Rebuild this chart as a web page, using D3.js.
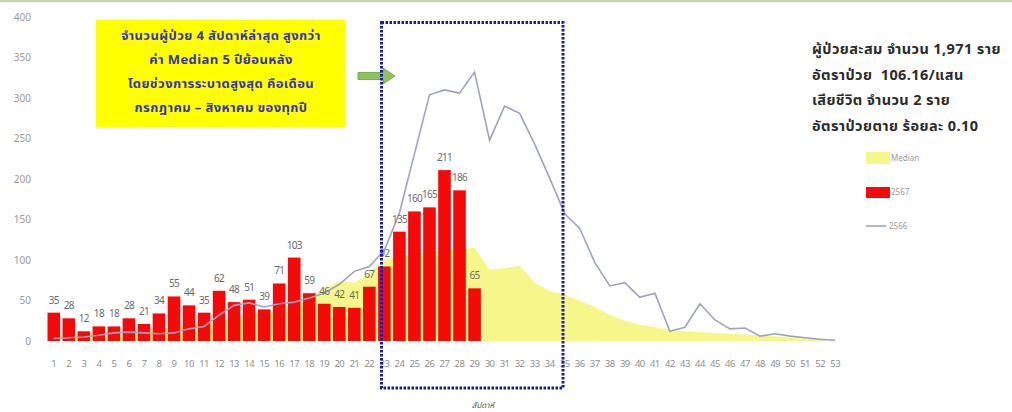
<!DOCTYPE html>
<html>
<head>
<meta charset="utf-8">
<script src="https://cdn.jsdelivr.net/npm/d3@7"></script>
<style>
  body { margin: 0; background: #fff; }
  svg { display: block; }
  text { font-family: Tahoma, "Noto Sans Thai", "Leelawadee UI", "DejaVu Sans", sans-serif; }
</style>
</head>
<body>
<svg id="chart" width="1012" height="412"></svg>
<script>
// week numbers on the x axis
const weeks = d3.range(1, 54)
// 2567 cases per week (bars)
const cases2567 = [35, 28, 12, 18, 18, 28, 21, 34, 55, 44, 35, 62, 48, 51, 39, 71, 103, 59, 46, 42, 41, 67, 92, 135, 160, 165, 211, 186, 65]
// 2566 cases per week (line)
const cases2566 = [3, 4, 5, 7, 10, 11, 10, 9, 10, 15, 18, 32, 44, 47, 42, 46, 48, 53, 59, 70, 86, 92, 112, 158, 231, 304, 310, 306, 332, 248,
  290, 281, 243, 201, 157, 139, 97, 68, 72, 54, 59, 12, 17, 46, 26, 15, 16, 6, 9, 6, 4, 2, 1]
// median of previous 5 years (area)
const median5y = [8, 8, 9, 10, 10, 12, 13, 15, 18, 20, 22, 25, 28, 32, 35, 40, 45, 55, 65, 74, 72, 84, 100, 105, 108, 110, 112, 113, 115, 88,
  90, 93, 72, 62, 57, 50, 42, 32, 25, 20, 17, 14, 12, 11, 10, 9, 8, 7, 6, 4, 3, 1, 0]
const yTicks = [0, 50, 100, 150, 200, 250, 300, 350, 400]
const boxLines = [
  "จำนวนผู้ป่วย 4 สัปดาห์ล่าสุด สูงกว่า",
  "ค่า Median 5 ปีย้อนหลัง",
  "โดยช่วงการระบาดสูงสุด คือเดือน",
  "กรกฎาคม – สิงหาคม ของทุกปี"
]
const summaryLines = [
  "ผู้ป่วยสะสม จำนวน 1,971 ราย",
  "อัตราป่วย  106.16/แสน",
  "เสียชีวิต จำนวน 2 ราย",
  "อัตราป่วยตาย ร้อยละ 0.10"
]
const legendItems = ["Median", "2567", "2566"]
const xTitle = "สัปดาห์"

const svg = d3.select("#chart")

const x = d3.scaleBand().domain(weeks).range([47.5, 841.5]).paddingInner(0.16)
const y = d3.scaleLinear().domain([0, 400]).range([341, 17])
const cx = d => x(d) + x.bandwidth() / 2

// thin green frame line at the top
svg.append("rect").attr("x", 0).attr("y", 0).attr("width", 1012).attr("height", 2).attr("fill", "#c2dcae")

// y axis labels
svg.append("g").selectAll("text").data(yTicks).join("text")
  .attr("x", 31).attr("y", d => y(d)).attr("dy", "0.35em")
  .attr("text-anchor", "end").attr("font-size", 10).attr("fill", "#9a9a9a")
  .text(d => d)

// x axis labels
svg.append("g").selectAll("text").data(weeks).join("text")
  .attr("x", d => cx(d)).attr("y", 367)
  .attr("text-anchor", "middle").attr("font-size", 9.5).attr("fill", "#8e8e8e")
  .attr("letter-spacing", -0.5)
  .text(d => d)

svg.append("text").attr("x", 483).attr("y", 408).attr("text-anchor", "middle")
  .attr("font-size", 8).attr("font-style", "italic").attr("fill", "#555").text(xTitle)

// median area
const area = d3.area().x((d, i) => cx(weeks[i])).y0(y(0)).y1(d => y(d))
svg.append("path").datum(median5y).attr("d", area).attr("fill", "#f6f78a")

// 2567 bars
svg.append("g").selectAll("rect").data(cases2567).join("rect")
  .attr("x", (d, i) => x(weeks[i])).attr("width", x.bandwidth())
  .attr("y", d => y(d)).attr("height", d => y(0) - y(d))
  .attr("fill", "#f50a0a")

// 2566 line
const line = d3.line().x((d, i) => cx(weeks[i])).y(d => y(d))
svg.append("path").datum(cases2566).attr("d", line)
  .attr("fill", "none").attr("stroke", "#9ea2c2").attr("stroke-width", 1.6)

// bar value labels
svg.append("g").selectAll("text").data(cases2567).join("text")
  .attr("x", (d, i) => cx(weeks[i])).attr("y", d => y(d) - 9)
  .attr("text-anchor", "middle").attr("font-size", 10).attr("fill", "#6a6a6a")
  .attr("letter-spacing", -0.7)
  .text(d => d)

// yellow note box
svg.append("rect").attr("x", 96).attr("y", 20).attr("width", 249).attr("height", 107).attr("fill", "#ffff00")
svg.append("g").selectAll("text").data(boxLines).join("text")
  .attr("x", 221).attr("y", (d, i) => 40 + i * 24)
  .attr("text-anchor", "middle").attr("font-size", 13).attr("font-weight", "bold").attr("fill", "#3535b0")
  .attr("letter-spacing", 0.4)
  .text(d => d)

// green arrow
svg.append("path")
  .attr("d", "M358,72.5 L383,72.5 L383,68 L395,76 L383,84 L383,79.5 L358,79.5 Z")
  .attr("fill", "#8cc45a").attr("stroke", "#6aa03c").attr("stroke-width", 0.8)

// blue dotted highlight box
svg.append("rect").attr("x", 381.5).attr("y", 22.5).attr("width", 181.5).attr("height", 365.5)
  .attr("fill", "none").attr("stroke", "#1c1cab").attr("stroke-width", 3)
  .attr("stroke-dasharray", "2.5 1.5")

// summary text
svg.append("g").selectAll("text").data(summaryLines).join("text")
  .attr("x", 812).attr("y", (d, i) => 54 + i * 25.5)
  .attr("font-size", 14.5).attr("font-weight", "bold").attr("fill", "#2b2b2b")
  .attr("letter-spacing", 0.4)
  .attr("xml:space", "preserve")
  .text(d => d)

// legend
const lg = svg.append("g").attr("transform", "translate(866,152)")
legendItems.forEach((name, i) => {
  const g = lg.append("g").attr("transform", `translate(0,${i * 34})`)
  if (name === "Median") {
    g.append("rect").attr("width", 24).attr("height", 12).attr("fill", "#f6f78a")
  } else if (name === "2567") {
    g.append("rect").attr("y", 1).attr("width", 24).attr("height", 11).attr("fill", "#f50a0a")
  } else {
    g.append("line").attr("x1", 0).attr("x2", 20).attr("y1", 6).attr("y2", 6)
      .attr("stroke", "#9ea2c2").attr("stroke-width", 1.6)
  }
  g.append("text").attr("x", name === "2566" ? 23 : 25).attr("y", 6).attr("dy", "0.35em")
    .attr("font-size", 8).attr("fill", "#999").text(name)
})
</script>
</body>
</html>
